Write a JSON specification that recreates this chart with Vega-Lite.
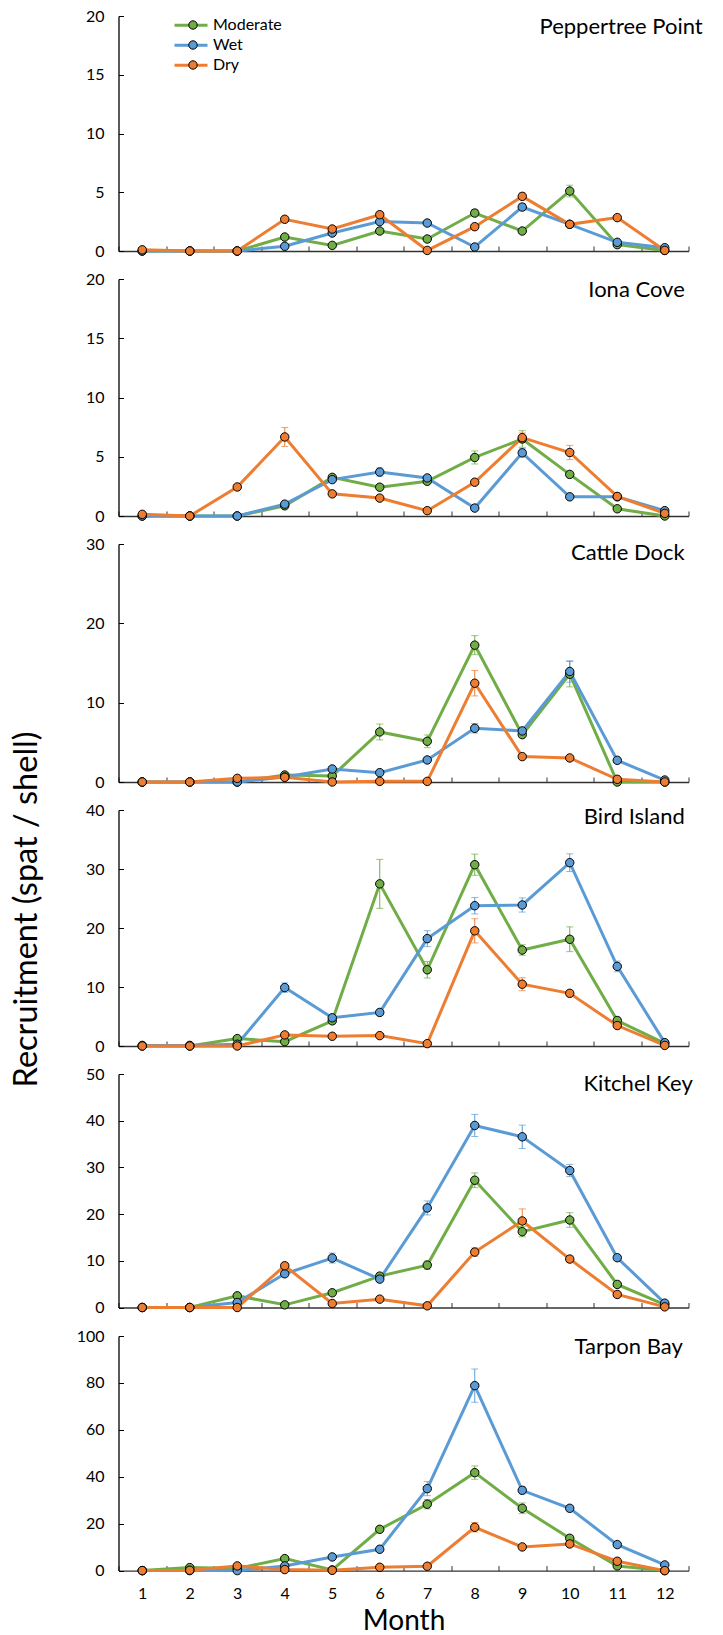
{
  "$schema": "https://vega.github.io/schema/vega-lite/v6.json",
  "background": "white",
  "padding": {"left": 9.5, "top": 8, "right": 10, "bottom": 2},
  "spacing": 28,
  "bounds": "flush",
  "config": {
    "view": {"stroke": null},
    "font": "Lato",
    "axis": {"grid": false, "labelFont": "Lato", "labelFontSize": 16, "labelColor": "black", "tickSize": -5, "domainWidth": 1.3, "tickWidth": 1, "titleFont": "Lato", "titleFontWeight": "normal", "titleColor": "black", "labelPadding": 19.5},
    "axisY": {"domainColor": "black", "tickColor": "black"},
    "axisX": {"domainColor": "#333333", "tickColor": "#333333"},
    "legend": {"labelFont": "Lato", "labelFontSize": 16, "labelColor": "black", "padding": 0, "rowPadding": 4, "clipHeight": 16, "labelOffset": 4}
  },
  "datasets": {
    "d": [
      {"s":"PP","m":1,"g":"Moderate","v":0,"lo":0,"hi":0},
      {"s":"PP","m":2,"g":"Moderate","v":0,"lo":0,"hi":0},
      {"s":"PP","m":3,"g":"Moderate","v":0,"lo":0,"hi":0},
      {"s":"PP","m":4,"g":"Moderate","v":1.19,"lo":0.99,"hi":1.39},
      {"s":"PP","m":5,"g":"Moderate","v":0.48,"lo":0.33,"hi":0.63},
      {"s":"PP","m":6,"g":"Moderate","v":1.70,"lo":1.5,"hi":1.9},
      {"s":"PP","m":7,"g":"Moderate","v":1.02,"lo":0.82,"hi":1.22},
      {"s":"PP","m":8,"g":"Moderate","v":3.23,"lo":2.93,"hi":3.53},
      {"s":"PP","m":9,"g":"Moderate","v":1.70,"lo":1.5,"hi":1.9},
      {"s":"PP","m":10,"g":"Moderate","v":5.10,"lo":4.6,"hi":5.6},
      {"s":"PP","m":11,"g":"Moderate","v":0.54,"lo":0.39,"hi":0.69},
      {"s":"PP","m":12,"g":"Moderate","v":0.05,"lo":0,"hi":0.1},
      {"s":"PP","m":1,"g":"Wet","v":0,"lo":0,"hi":0},
      {"s":"PP","m":2,"g":"Wet","v":0,"lo":0,"hi":0},
      {"s":"PP","m":3,"g":"Wet","v":0,"lo":0,"hi":0},
      {"s":"PP","m":4,"g":"Wet","v":0.40,"lo":0.3,"hi":0.5},
      {"s":"PP","m":5,"g":"Wet","v":1.53,"lo":1.33,"hi":1.73},
      {"s":"PP","m":6,"g":"Wet","v":2.50,"lo":2.3,"hi":2.7},
      {"s":"PP","m":7,"g":"Wet","v":2.38,"lo":2.18,"hi":2.58},
      {"s":"PP","m":8,"g":"Wet","v":0.34,"lo":0.24,"hi":0.44},
      {"s":"PP","m":9,"g":"Wet","v":3.74,"lo":3.44,"hi":4.04},
      {"s":"PP","m":10,"g":"Wet","v":2.27,"lo":2.07,"hi":2.47},
      {"s":"PP","m":11,"g":"Wet","v":0.74,"lo":0.59,"hi":0.89},
      {"s":"PP","m":12,"g":"Wet","v":0.28,"lo":0.18,"hi":0.38},
      {"s":"PP","m":1,"g":"Dry","v":0.1,"lo":0.05,"hi":0.15},
      {"s":"PP","m":2,"g":"Dry","v":0,"lo":0,"hi":0},
      {"s":"PP","m":3,"g":"Dry","v":0,"lo":0,"hi":0},
      {"s":"PP","m":4,"g":"Dry","v":2.70,"lo":2.5,"hi":2.9},
      {"s":"PP","m":5,"g":"Dry","v":1.87,"lo":1.67,"hi":2.07},
      {"s":"PP","m":6,"g":"Dry","v":3.09,"lo":2.84,"hi":3.34},
      {"s":"PP","m":7,"g":"Dry","v":0.05,"lo":0,"hi":0.1},
      {"s":"PP","m":8,"g":"Dry","v":2.07,"lo":1.87,"hi":2.27},
      {"s":"PP","m":9,"g":"Dry","v":4.65,"lo":4.35,"hi":4.95},
      {"s":"PP","m":10,"g":"Dry","v":2.27,"lo":2.07,"hi":2.47},
      {"s":"PP","m":11,"g":"Dry","v":2.84,"lo":2.64,"hi":3.04},
      {"s":"PP","m":12,"g":"Dry","v":0.05,"lo":0,"hi":0.1},
      {"s":"IC","m":1,"g":"Moderate","v":0,"lo":0,"hi":0},
      {"s":"IC","m":2,"g":"Moderate","v":0,"lo":0,"hi":0},
      {"s":"IC","m":3,"g":"Moderate","v":0,"lo":0,"hi":0},
      {"s":"IC","m":4,"g":"Moderate","v":0.86,"lo":0.76,"hi":0.96},
      {"s":"IC","m":5,"g":"Moderate","v":3.26,"lo":3.06,"hi":3.46},
      {"s":"IC","m":6,"g":"Moderate","v":2.43,"lo":2.23,"hi":2.63},
      {"s":"IC","m":7,"g":"Moderate","v":2.93,"lo":2.73,"hi":3.13},
      {"s":"IC","m":8,"g":"Moderate","v":4.94,"lo":4.39,"hi":5.49},
      {"s":"IC","m":9,"g":"Moderate","v":6.5,"lo":5.8,"hi":7.2},
      {"s":"IC","m":10,"g":"Moderate","v":3.51,"lo":3.26,"hi":3.76},
      {"s":"IC","m":11,"g":"Moderate","v":0.61,"lo":0.51,"hi":0.71},
      {"s":"IC","m":12,"g":"Moderate","v":0,"lo":0,"hi":0},
      {"s":"IC","m":1,"g":"Wet","v":0,"lo":0,"hi":0},
      {"s":"IC","m":2,"g":"Wet","v":0,"lo":0,"hi":0},
      {"s":"IC","m":3,"g":"Wet","v":0,"lo":0,"hi":0},
      {"s":"IC","m":4,"g":"Wet","v":1.0,"lo":0.9,"hi":1.1},
      {"s":"IC","m":5,"g":"Wet","v":3.07,"lo":2.87,"hi":3.27},
      {"s":"IC","m":6,"g":"Wet","v":3.71,"lo":3.36,"hi":4.06},
      {"s":"IC","m":7,"g":"Wet","v":3.21,"lo":3.01,"hi":3.41},
      {"s":"IC","m":8,"g":"Wet","v":0.67,"lo":0.57,"hi":0.77},
      {"s":"IC","m":9,"g":"Wet","v":5.33,"lo":4.98,"hi":5.68},
      {"s":"IC","m":10,"g":"Wet","v":1.62,"lo":1.47,"hi":1.77},
      {"s":"IC","m":11,"g":"Wet","v":1.62,"lo":1.47,"hi":1.77},
      {"s":"IC","m":12,"g":"Wet","v":0.45,"lo":0.35,"hi":0.55},
      {"s":"IC","m":1,"g":"Dry","v":0.14,"lo":0.09,"hi":0.19},
      {"s":"IC","m":2,"g":"Dry","v":0,"lo":0,"hi":0},
      {"s":"IC","m":3,"g":"Dry","v":2.45,"lo":2.25,"hi":2.65},
      {"s":"IC","m":4,"g":"Dry","v":6.67,"lo":5.87,"hi":7.47},
      {"s":"IC","m":5,"g":"Dry","v":1.87,"lo":1.72,"hi":2.02},
      {"s":"IC","m":6,"g":"Dry","v":1.51,"lo":1.36,"hi":1.66},
      {"s":"IC","m":7,"g":"Dry","v":0.45,"lo":0.35,"hi":0.55},
      {"s":"IC","m":8,"g":"Dry","v":2.85,"lo":2.65,"hi":3.05},
      {"s":"IC","m":9,"g":"Dry","v":6.61,"lo":6.21,"hi":7.01},
      {"s":"IC","m":10,"g":"Dry","v":5.36,"lo":4.76,"hi":5.96},
      {"s":"IC","m":11,"g":"Dry","v":1.65,"lo":1.45,"hi":1.85},
      {"s":"IC","m":12,"g":"Dry","v":0.22,"lo":0.17,"hi":0.27},
      {"s":"CD","m":1,"g":"Moderate","v":0,"lo":0,"hi":0},
      {"s":"CD","m":2,"g":"Moderate","v":0,"lo":0,"hi":0},
      {"s":"CD","m":3,"g":"Moderate","v":0,"lo":0,"hi":0},
      {"s":"CD","m":4,"g":"Moderate","v":0.88,"lo":0.68,"hi":1.08},
      {"s":"CD","m":5,"g":"Moderate","v":0.76,"lo":0.56,"hi":0.96},
      {"s":"CD","m":6,"g":"Moderate","v":6.31,"lo":5.31,"hi":7.31},
      {"s":"CD","m":7,"g":"Moderate","v":5.13,"lo":4.33,"hi":5.93},
      {"s":"CD","m":8,"g":"Moderate","v":17.25,"lo":16.05,"hi":18.45},
      {"s":"CD","m":9,"g":"Moderate","v":5.97,"lo":5.67,"hi":6.27},
      {"s":"CD","m":10,"g":"Moderate","v":13.59,"lo":11.99,"hi":15.19},
      {"s":"CD","m":11,"g":"Moderate","v":0,"lo":0,"hi":0},
      {"s":"CD","m":12,"g":"Moderate","v":0,"lo":0,"hi":0},
      {"s":"CD","m":1,"g":"Wet","v":0,"lo":0,"hi":0},
      {"s":"CD","m":2,"g":"Wet","v":0,"lo":0,"hi":0},
      {"s":"CD","m":3,"g":"Wet","v":0,"lo":0,"hi":0},
      {"s":"CD","m":4,"g":"Wet","v":0.63,"lo":0.43,"hi":0.83},
      {"s":"CD","m":5,"g":"Wet","v":1.64,"lo":1.34,"hi":1.94},
      {"s":"CD","m":6,"g":"Wet","v":1.18,"lo":0.88,"hi":1.48},
      {"s":"CD","m":7,"g":"Wet","v":2.78,"lo":2.48,"hi":3.08},
      {"s":"CD","m":8,"g":"Wet","v":6.77,"lo":6.17,"hi":7.37},
      {"s":"CD","m":9,"g":"Wet","v":6.44,"lo":6.04,"hi":6.84},
      {"s":"CD","m":10,"g":"Wet","v":13.93,"lo":12.58,"hi":15.28},
      {"s":"CD","m":11,"g":"Wet","v":2.73,"lo":2.43,"hi":3.03},
      {"s":"CD","m":12,"g":"Wet","v":0.25,"lo":0.15,"hi":0.35},
      {"s":"CD","m":1,"g":"Dry","v":0,"lo":0,"hi":0},
      {"s":"CD","m":2,"g":"Dry","v":0,"lo":0,"hi":0},
      {"s":"CD","m":3,"g":"Dry","v":0.46,"lo":0.36,"hi":0.56},
      {"s":"CD","m":4,"g":"Dry","v":0.59,"lo":0.49,"hi":0.69},
      {"s":"CD","m":5,"g":"Dry","v":0,"lo":0,"hi":0},
      {"s":"CD","m":6,"g":"Dry","v":0.08,"lo":0.03,"hi":0.13},
      {"s":"CD","m":7,"g":"Dry","v":0.08,"lo":0.03,"hi":0.13},
      {"s":"CD","m":8,"g":"Dry","v":12.45,"lo":10.85,"hi":14.05},
      {"s":"CD","m":9,"g":"Dry","v":3.2,"lo":2.9,"hi":3.5},
      {"s":"CD","m":10,"g":"Dry","v":3.03,"lo":2.73,"hi":3.33},
      {"s":"CD","m":11,"g":"Dry","v":0.34,"lo":0.24,"hi":0.44},
      {"s":"CD","m":12,"g":"Dry","v":0,"lo":0,"hi":0},
      {"s":"BI","m":1,"g":"Moderate","v":0,"lo":0,"hi":0},
      {"s":"BI","m":2,"g":"Moderate","v":0,"lo":0,"hi":0},
      {"s":"BI","m":3,"g":"Moderate","v":1.25,"lo":0.95,"hi":1.55},
      {"s":"BI","m":4,"g":"Moderate","v":0.74,"lo":0.44,"hi":1.04},
      {"s":"BI","m":5,"g":"Moderate","v":4.27,"lo":3.77,"hi":4.77},
      {"s":"BI","m":6,"g":"Moderate","v":27.48,"lo":23.33,"hi":31.63},
      {"s":"BI","m":7,"g":"Moderate","v":12.92,"lo":11.52,"hi":14.32},
      {"s":"BI","m":8,"g":"Moderate","v":30.73,"lo":28.93,"hi":32.53},
      {"s":"BI","m":9,"g":"Moderate","v":16.27,"lo":15.37,"hi":17.17},
      {"s":"BI","m":10,"g":"Moderate","v":18.09,"lo":15.99,"hi":20.19},
      {"s":"BI","m":11,"g":"Moderate","v":4.32,"lo":3.82,"hi":4.82},
      {"s":"BI","m":12,"g":"Moderate","v":0.46,"lo":0.26,"hi":0.66},
      {"s":"BI","m":1,"g":"Wet","v":0.1,"lo":0.1,"hi":0.1},
      {"s":"BI","m":2,"g":"Wet","v":0.1,"lo":0.1,"hi":0.1},
      {"s":"BI","m":3,"g":"Wet","v":0.3,"lo":0.2,"hi":0.4},
      {"s":"BI","m":4,"g":"Wet","v":9.9,"lo":9.1,"hi":10.7},
      {"s":"BI","m":5,"g":"Wet","v":4.78,"lo":4.28,"hi":5.28},
      {"s":"BI","m":6,"g":"Wet","v":5.69,"lo":5.19,"hi":6.19},
      {"s":"BI","m":7,"g":"Wet","v":18.2,"lo":16.85,"hi":19.55},
      {"s":"BI","m":8,"g":"Wet","v":23.78,"lo":22.38,"hi":25.18},
      {"s":"BI","m":9,"g":"Wet","v":23.9,"lo":22.7,"hi":25.1},
      {"s":"BI","m":10,"g":"Wet","v":31.07,"lo":29.57,"hi":32.57},
      {"s":"BI","m":11,"g":"Wet","v":13.49,"lo":12.59,"hi":14.39},
      {"s":"BI","m":12,"g":"Wet","v":0.57,"lo":0.37,"hi":0.77},
      {"s":"BI","m":1,"g":"Dry","v":0,"lo":0,"hi":0},
      {"s":"BI","m":2,"g":"Dry","v":0,"lo":0,"hi":0},
      {"s":"BI","m":3,"g":"Dry","v":0,"lo":0,"hi":0},
      {"s":"BI","m":4,"g":"Dry","v":1.88,"lo":1.48,"hi":2.28},
      {"s":"BI","m":5,"g":"Dry","v":1.65,"lo":1.35,"hi":1.95},
      {"s":"BI","m":6,"g":"Dry","v":1.76,"lo":1.36,"hi":2.16},
      {"s":"BI","m":7,"g":"Dry","v":0.4,"lo":0.2,"hi":0.6},
      {"s":"BI","m":8,"g":"Dry","v":19.52,"lo":17.47,"hi":21.57},
      {"s":"BI","m":9,"g":"Dry","v":10.47,"lo":9.37,"hi":11.57},
      {"s":"BI","m":10,"g":"Dry","v":8.93,"lo":8.43,"hi":9.43},
      {"s":"BI","m":11,"g":"Dry","v":3.47,"lo":3.07,"hi":3.87},
      {"s":"BI","m":12,"g":"Dry","v":0.1,"lo":0.05,"hi":0.15},
      {"s":"KK","m":1,"g":"Moderate","v":0,"lo":0,"hi":0},
      {"s":"KK","m":2,"g":"Moderate","v":0,"lo":0,"hi":0},
      {"s":"KK","m":3,"g":"Moderate","v":2.5,"lo":2.2,"hi":2.8},
      {"s":"KK","m":4,"g":"Moderate","v":0.57,"lo":0.27,"hi":0.87},
      {"s":"KK","m":5,"g":"Moderate","v":3.15,"lo":2.75,"hi":3.55},
      {"s":"KK","m":6,"g":"Moderate","v":6.72,"lo":6.12,"hi":7.32},
      {"s":"KK","m":7,"g":"Moderate","v":9.08,"lo":8.18,"hi":9.98},
      {"s":"KK","m":8,"g":"Moderate","v":27.25,"lo":25.68,"hi":28.82},
      {"s":"KK","m":9,"g":"Moderate","v":16.24,"lo":15.14,"hi":17.34},
      {"s":"KK","m":10,"g":"Moderate","v":18.74,"lo":17.17,"hi":20.31},
      {"s":"KK","m":11,"g":"Moderate","v":4.94,"lo":4.44,"hi":5.44},
      {"s":"KK","m":12,"g":"Moderate","v":0.64,"lo":0.44,"hi":0.84},
      {"s":"KK","m":1,"g":"Wet","v":0,"lo":0,"hi":0},
      {"s":"KK","m":2,"g":"Wet","v":0,"lo":0,"hi":0},
      {"s":"KK","m":3,"g":"Wet","v":1.07,"lo":0.77,"hi":1.37},
      {"s":"KK","m":4,"g":"Wet","v":7.22,"lo":6.62,"hi":7.82},
      {"s":"KK","m":5,"g":"Wet","v":10.59,"lo":9.52,"hi":11.66},
      {"s":"KK","m":6,"g":"Wet","v":6.08,"lo":5.48,"hi":6.68},
      {"s":"KK","m":7,"g":"Wet","v":21.32,"lo":19.82,"hi":22.82},
      {"s":"KK","m":8,"g":"Wet","v":38.98,"lo":36.62,"hi":41.34},
      {"s":"KK","m":9,"g":"Wet","v":36.55,"lo":34.05,"hi":39.05},
      {"s":"KK","m":10,"g":"Wet","v":29.33,"lo":28.03,"hi":30.63},
      {"s":"KK","m":11,"g":"Wet","v":10.66,"lo":10.06,"hi":11.26},
      {"s":"KK","m":12,"g":"Wet","v":0.93,"lo":0.73,"hi":1.13},
      {"s":"KK","m":1,"g":"Dry","v":0,"lo":0,"hi":0},
      {"s":"KK","m":2,"g":"Dry","v":0,"lo":0,"hi":0},
      {"s":"KK","m":3,"g":"Dry","v":0,"lo":0,"hi":0},
      {"s":"KK","m":4,"g":"Dry","v":8.94,"lo":8.34,"hi":9.54},
      {"s":"KK","m":5,"g":"Dry","v":0.86,"lo":0.56,"hi":1.16},
      {"s":"KK","m":6,"g":"Dry","v":1.79,"lo":1.49,"hi":2.09},
      {"s":"KK","m":7,"g":"Dry","v":0.36,"lo":0.16,"hi":0.56},
      {"s":"KK","m":8,"g":"Dry","v":11.87,"lo":10.97,"hi":12.77},
      {"s":"KK","m":9,"g":"Dry","v":18.53,"lo":15.95,"hi":21.11},
      {"s":"KK","m":10,"g":"Dry","v":10.37,"lo":9.67,"hi":11.07},
      {"s":"KK","m":11,"g":"Dry","v":2.79,"lo":2.29,"hi":3.29},
      {"s":"KK","m":12,"g":"Dry","v":0.14,"lo":0.04,"hi":0.24},
      {"s":"TB","m":1,"g":"Moderate","v":0,"lo":0,"hi":0},
      {"s":"TB","m":2,"g":"Moderate","v":1.28,"lo":0.98,"hi":1.58},
      {"s":"TB","m":3,"g":"Moderate","v":0.9,"lo":0.6,"hi":1.2},
      {"s":"TB","m":4,"g":"Moderate","v":5.11,"lo":4.31,"hi":5.91},
      {"s":"TB","m":5,"g":"Moderate","v":0.28,"lo":0,"hi":0.58},
      {"s":"TB","m":6,"g":"Moderate","v":17.6,"lo":16.4,"hi":18.8},
      {"s":"TB","m":7,"g":"Moderate","v":28.3,"lo":26.3,"hi":30.3},
      {"s":"TB","m":8,"g":"Moderate","v":41.76,"lo":38.92,"hi":44.6},
      {"s":"TB","m":9,"g":"Moderate","v":26.56,"lo":24.29,"hi":28.83},
      {"s":"TB","m":10,"g":"Moderate","v":13.78,"lo":12.78,"hi":14.78},
      {"s":"TB","m":11,"g":"Moderate","v":1.99,"lo":1.49,"hi":2.49},
      {"s":"TB","m":12,"g":"Moderate","v":0,"lo":0,"hi":0},
      {"s":"TB","m":1,"g":"Wet","v":0,"lo":0,"hi":0},
      {"s":"TB","m":2,"g":"Wet","v":0,"lo":0,"hi":0},
      {"s":"TB","m":3,"g":"Wet","v":0,"lo":0,"hi":0},
      {"s":"TB","m":4,"g":"Wet","v":1.99,"lo":1.49,"hi":2.49},
      {"s":"TB","m":5,"g":"Wet","v":5.82,"lo":5.02,"hi":6.62},
      {"s":"TB","m":6,"g":"Wet","v":9.09,"lo":8.09,"hi":10.09},
      {"s":"TB","m":7,"g":"Wet","v":34.94,"lo":31.94,"hi":37.94},
      {"s":"TB","m":8,"g":"Wet","v":78.84,"lo":71.74,"hi":85.94},
      {"s":"TB","m":9,"g":"Wet","v":34.23,"lo":32.73,"hi":35.73},
      {"s":"TB","m":10,"g":"Wet","v":26.56,"lo":25.36,"hi":27.76},
      {"s":"TB","m":11,"g":"Wet","v":11.08,"lo":10.28,"hi":11.88},
      {"s":"TB","m":12,"g":"Wet","v":2.41,"lo":2.01,"hi":2.81},
      {"s":"TB","m":1,"g":"Dry","v":0,"lo":0,"hi":0},
      {"s":"TB","m":2,"g":"Dry","v":0.14,"lo":0.04,"hi":0.24},
      {"s":"TB","m":3,"g":"Dry","v":1.99,"lo":1.69,"hi":2.29},
      {"s":"TB","m":4,"g":"Dry","v":0.43,"lo":0.23,"hi":0.63},
      {"s":"TB","m":5,"g":"Dry","v":0.14,"lo":0.04,"hi":0.24},
      {"s":"TB","m":6,"g":"Dry","v":1.42,"lo":1.02,"hi":1.82},
      {"s":"TB","m":7,"g":"Dry","v":1.85,"lo":1.35,"hi":2.35},
      {"s":"TB","m":8,"g":"Dry","v":18.47,"lo":16.47,"hi":20.47},
      {"s":"TB","m":9,"g":"Dry","v":10.09,"lo":9.29,"hi":10.89},
      {"s":"TB","m":10,"g":"Dry","v":11.36,"lo":10.56,"hi":12.16},
      {"s":"TB","m":11,"g":"Dry","v":3.98,"lo":3.48,"hi":4.48},
      {"s":"TB","m":12,"g":"Dry","v":0,"lo":0,"hi":0}
    ]
  },
  "resolve": {
    "scale": {"x": "independent", "y": "independent"},
    "axis": {"x": "independent", "y": "independent"},
    "legend": {"stroke": "independent", "fill": "independent"}
  },
  "vconcat": [
    {
      "width": 570, "height": 235,
      "data": {"name": "d"},
      "transform": [{"filter": "datum.s == 'PP'"}],
      "encoding": {"x": {"field": "m", "type": "ordinal", "bandPosition": 0.5, "scale": {"type": "band", "domain": [1,2,3,4,5,6,7,8,9,10,11,12], "paddingInner": 0, "paddingOuter": 0}, "axis": {"title": null, "labels": false, "tickBand": "extent"}}},
      "layer": [
        {"mark": {"type": "rule", "strokeWidth": 1}, "encoding": {"y": {"field": "lo", "type": "quantitative", "scale": {"domain": [0, 20], "nice": false}, "axis": {"title": null, "values": [0,5,10,15,20]}}, "y2": {"field": "hi"}, "color": {"field": "g", "type": "nominal", "scale": {"domain": ["Moderate","Wet","Dry"], "range": ["#70AD47","#5B9BD5","#ED7D31"]}, "legend": null}}},
        {"mark": {"type": "tick", "thickness": 1, "size": 7}, "encoding": {"y": {"field": "hi", "type": "quantitative", "scale": {"domain": [0, 20], "nice": false}, "axis": {"title": null, "values": [0,5,10,15,20]}}, "color": {"field": "g", "type": "nominal", "scale": {"domain": ["Moderate","Wet","Dry"], "range": ["#70AD47","#5B9BD5","#ED7D31"]}, "legend": null}}},
        {"mark": {"type": "tick", "thickness": 1, "size": 7}, "encoding": {"y": {"field": "lo", "type": "quantitative", "scale": {"domain": [0, 20], "nice": false}, "axis": {"title": null, "values": [0,5,10,15,20]}}, "color": {"field": "g", "type": "nominal", "scale": {"domain": ["Moderate","Wet","Dry"], "range": ["#70AD47","#5B9BD5","#ED7D31"]}, "legend": null}}},
        {"mark": {"type": "line", "strokeWidth": 3}, "encoding": {"y": {"field": "v", "type": "quantitative", "scale": {"domain": [0, 20], "nice": false}, "axis": {"title": null, "values": [0,5,10,15,20]}}, "stroke": {"field": "g", "type": "nominal", "scale": {"domain": ["Moderate","Wet","Dry"], "range": ["#70AD47","#5B9BD5","#ED7D31"]}, "legend": {"title": null, "orient": "none", "legendX": 54.5, "legendY": 1.3, "symbolType": "stroke", "symbolSize": 1089, "symbolStrokeWidth": 3, "symbolFillColor": "transparent"}}}},
        {"mark": {"type": "point", "filled": true, "shape": "circle", "size": 71, "stroke": "black", "strokeWidth": 1, "opacity": 1}, "encoding": {"y": {"field": "v", "type": "quantitative", "scale": {"domain": [0, 20], "nice": false}, "axis": {"title": null, "values": [0,5,10,15,20]}}, "fill": {"field": "g", "type": "nominal", "scale": {"domain": ["Moderate","Wet","Dry"], "range": ["#70AD47","#5B9BD5","#ED7D31"]}, "legend": {"title": null, "orient": "top-left", "offset": 1.3, "symbolOffset": 65.5, "symbolType": "circle", "symbolSize": 71, "symbolStrokeColor": "black", "symbolStrokeWidth": 1, "symbolOpacity": 1, "labelExpr": "''"}}}},
        {"data": {"values": [{"s": "PP", "name": "Peppertree Point"}]}, "mark": {"type": "text", "align": "right", "baseline": "alphabetic", "dx": 38, "dy": 17.5, "font": "Lato", "fontSize": 22, "color": "black"}, "encoding": {"x": {"datum": 12, "type": "ordinal", "bandPosition": 0.5, "scale": {"type": "band", "domain": [1,2,3,4,5,6,7,8,9,10,11,12], "paddingInner": 0, "paddingOuter": 0}, "axis": {"title": null, "labels": false, "tickBand": "extent"}}, "y": {"datum": 20, "type": "quantitative", "scale": {"domain": [0, 20], "nice": false}, "axis": {"title": null, "values": [0,5,10,15,20]}}, "text": {"field": "name"}}}
      ]
    },
    {
      "width": 570, "height": 237,
      "data": {"name": "d"},
      "transform": [{"filter": "datum.s == 'IC'"}],
      "encoding": {"x": {"field": "m", "type": "ordinal", "bandPosition": 0.5, "scale": {"type": "band", "domain": [1,2,3,4,5,6,7,8,9,10,11,12], "paddingInner": 0, "paddingOuter": 0}, "axis": {"title": null, "labels": false, "tickBand": "extent"}}},
      "layer": [
        {"mark": {"type": "rule", "strokeWidth": 1}, "encoding": {"y": {"field": "lo", "type": "quantitative", "scale": {"domain": [0, 20], "nice": false}, "axis": {"title": null, "values": [0,5,10,15,20]}}, "y2": {"field": "hi"}, "color": {"field": "g", "type": "nominal", "scale": {"domain": ["Moderate","Wet","Dry"], "range": ["#70AD47","#5B9BD5","#ED7D31"]}, "legend": null}}},
        {"mark": {"type": "tick", "thickness": 1, "size": 7}, "encoding": {"y": {"field": "hi", "type": "quantitative", "scale": {"domain": [0, 20], "nice": false}, "axis": {"title": null, "values": [0,5,10,15,20]}}, "color": {"field": "g", "type": "nominal", "scale": {"domain": ["Moderate","Wet","Dry"], "range": ["#70AD47","#5B9BD5","#ED7D31"]}, "legend": null}}},
        {"mark": {"type": "tick", "thickness": 1, "size": 7}, "encoding": {"y": {"field": "lo", "type": "quantitative", "scale": {"domain": [0, 20], "nice": false}, "axis": {"title": null, "values": [0,5,10,15,20]}}, "color": {"field": "g", "type": "nominal", "scale": {"domain": ["Moderate","Wet","Dry"], "range": ["#70AD47","#5B9BD5","#ED7D31"]}, "legend": null}}},
        {"mark": {"type": "line", "strokeWidth": 3}, "encoding": {"y": {"field": "v", "type": "quantitative", "scale": {"domain": [0, 20], "nice": false}, "axis": {"title": null, "values": [0,5,10,15,20]}}, "stroke": {"field": "g", "type": "nominal", "scale": {"domain": ["Moderate","Wet","Dry"], "range": ["#70AD47","#5B9BD5","#ED7D31"]}, "legend": null}}},
        {"mark": {"type": "point", "filled": true, "shape": "circle", "size": 71, "stroke": "black", "strokeWidth": 1, "opacity": 1}, "encoding": {"y": {"field": "v", "type": "quantitative", "scale": {"domain": [0, 20], "nice": false}, "axis": {"title": null, "values": [0,5,10,15,20]}}, "fill": {"field": "g", "type": "nominal", "scale": {"domain": ["Moderate","Wet","Dry"], "range": ["#70AD47","#5B9BD5","#ED7D31"]}, "legend": null}}},
        {"data": {"values": [{"s": "IC", "name": "Iona Cove"}]}, "mark": {"type": "text", "align": "right", "baseline": "alphabetic", "dx": 20, "dy": 18, "font": "Lato", "fontSize": 22, "color": "black"}, "encoding": {"x": {"datum": 12, "type": "ordinal", "bandPosition": 0.5, "scale": {"type": "band", "domain": [1,2,3,4,5,6,7,8,9,10,11,12], "paddingInner": 0, "paddingOuter": 0}, "axis": {"title": null, "labels": false, "tickBand": "extent"}}, "y": {"datum": 20, "type": "quantitative", "scale": {"domain": [0, 20], "nice": false}, "axis": {"title": null, "values": [0,5,10,15,20]}}, "text": {"field": "name"}}}
      ]
    },
    {
      "width": 570, "height": 238,
      "data": {"name": "d"},
      "transform": [{"filter": "datum.s == 'CD'"}],
      "encoding": {"x": {"field": "m", "type": "ordinal", "bandPosition": 0.5, "scale": {"type": "band", "domain": [1,2,3,4,5,6,7,8,9,10,11,12], "paddingInner": 0, "paddingOuter": 0}, "axis": {"title": null, "labels": false, "tickBand": "extent"}}},
      "layer": [
        {"mark": {"type": "rule", "strokeWidth": 1}, "encoding": {"y": {"field": "lo", "type": "quantitative", "scale": {"domain": [0, 30], "nice": false}, "axis": {"title": null, "values": [0,10,20,30]}}, "y2": {"field": "hi"}, "color": {"field": "g", "type": "nominal", "scale": {"domain": ["Moderate","Wet","Dry"], "range": ["#70AD47","#5B9BD5","#ED7D31"]}, "legend": null}}},
        {"mark": {"type": "tick", "thickness": 1, "size": 7}, "encoding": {"y": {"field": "hi", "type": "quantitative", "scale": {"domain": [0, 30], "nice": false}, "axis": {"title": null, "values": [0,10,20,30]}}, "color": {"field": "g", "type": "nominal", "scale": {"domain": ["Moderate","Wet","Dry"], "range": ["#70AD47","#5B9BD5","#ED7D31"]}, "legend": null}}},
        {"mark": {"type": "tick", "thickness": 1, "size": 7}, "encoding": {"y": {"field": "lo", "type": "quantitative", "scale": {"domain": [0, 30], "nice": false}, "axis": {"title": null, "values": [0,10,20,30]}}, "color": {"field": "g", "type": "nominal", "scale": {"domain": ["Moderate","Wet","Dry"], "range": ["#70AD47","#5B9BD5","#ED7D31"]}, "legend": null}}},
        {"mark": {"type": "line", "strokeWidth": 3}, "encoding": {"y": {"field": "v", "type": "quantitative", "scale": {"domain": [0, 30], "nice": false}, "axis": {"title": null, "values": [0,10,20,30]}}, "stroke": {"field": "g", "type": "nominal", "scale": {"domain": ["Moderate","Wet","Dry"], "range": ["#70AD47","#5B9BD5","#ED7D31"]}, "legend": null}}},
        {"mark": {"type": "point", "filled": true, "shape": "circle", "size": 71, "stroke": "black", "strokeWidth": 1, "opacity": 1}, "encoding": {"y": {"field": "v", "type": "quantitative", "scale": {"domain": [0, 30], "nice": false}, "axis": {"title": null, "values": [0,10,20,30]}}, "fill": {"field": "g", "type": "nominal", "scale": {"domain": ["Moderate","Wet","Dry"], "range": ["#70AD47","#5B9BD5","#ED7D31"]}, "legend": null}}},
        {"data": {"values": [{"s": "CD", "name": "Cattle Dock"}]}, "mark": {"type": "text", "align": "right", "baseline": "alphabetic", "dx": 20, "dy": 16, "font": "Lato", "fontSize": 22, "color": "black"}, "encoding": {"x": {"datum": 12, "type": "ordinal", "bandPosition": 0.5, "scale": {"type": "band", "domain": [1,2,3,4,5,6,7,8,9,10,11,12], "paddingInner": 0, "paddingOuter": 0}, "axis": {"title": null, "labels": false, "tickBand": "extent"}}, "y": {"datum": 30, "type": "quantitative", "scale": {"domain": [0, 30], "nice": false}, "axis": {"title": null, "values": [0,10,20,30]}}, "text": {"field": "name"}}}
      ]
    },
    {
      "width": 570, "height": 236,
      "data": {"name": "d"},
      "transform": [{"filter": "datum.s == 'BI'"}],
      "encoding": {"x": {"field": "m", "type": "ordinal", "bandPosition": 0.5, "scale": {"type": "band", "domain": [1,2,3,4,5,6,7,8,9,10,11,12], "paddingInner": 0, "paddingOuter": 0}, "axis": {"title": null, "labels": false, "tickBand": "extent"}}},
      "layer": [
        {"mark": {"type": "rule", "strokeWidth": 1}, "encoding": {"y": {"field": "lo", "type": "quantitative", "scale": {"domain": [0, 40], "nice": false}, "axis": {"title": "Recruitment (spat / shell)", "values": [0,10,20,30,40], "titleFontSize": 32.5, "titleX": -82, "titleY": 99, "titleAngle": -90, "titleBaseline": "alphabetic", "titleAlign": "center"}}, "y2": {"field": "hi"}, "color": {"field": "g", "type": "nominal", "scale": {"domain": ["Moderate","Wet","Dry"], "range": ["#70AD47","#5B9BD5","#ED7D31"]}, "legend": null}}},
        {"mark": {"type": "tick", "thickness": 1, "size": 7}, "encoding": {"y": {"field": "hi", "type": "quantitative", "scale": {"domain": [0, 40], "nice": false}, "axis": {"title": "Recruitment (spat / shell)", "values": [0,10,20,30,40], "titleFontSize": 32.5, "titleX": -82, "titleY": 99, "titleAngle": -90, "titleBaseline": "alphabetic", "titleAlign": "center"}}, "color": {"field": "g", "type": "nominal", "scale": {"domain": ["Moderate","Wet","Dry"], "range": ["#70AD47","#5B9BD5","#ED7D31"]}, "legend": null}}},
        {"mark": {"type": "tick", "thickness": 1, "size": 7}, "encoding": {"y": {"field": "lo", "type": "quantitative", "scale": {"domain": [0, 40], "nice": false}, "axis": {"title": "Recruitment (spat / shell)", "values": [0,10,20,30,40], "titleFontSize": 32.5, "titleX": -82, "titleY": 99, "titleAngle": -90, "titleBaseline": "alphabetic", "titleAlign": "center"}}, "color": {"field": "g", "type": "nominal", "scale": {"domain": ["Moderate","Wet","Dry"], "range": ["#70AD47","#5B9BD5","#ED7D31"]}, "legend": null}}},
        {"mark": {"type": "line", "strokeWidth": 3}, "encoding": {"y": {"field": "v", "type": "quantitative", "scale": {"domain": [0, 40], "nice": false}, "axis": {"title": "Recruitment (spat / shell)", "values": [0,10,20,30,40], "titleFontSize": 32.5, "titleX": -82, "titleY": 99, "titleAngle": -90, "titleBaseline": "alphabetic", "titleAlign": "center"}}, "stroke": {"field": "g", "type": "nominal", "scale": {"domain": ["Moderate","Wet","Dry"], "range": ["#70AD47","#5B9BD5","#ED7D31"]}, "legend": null}}},
        {"mark": {"type": "point", "filled": true, "shape": "circle", "size": 71, "stroke": "black", "strokeWidth": 1, "opacity": 1}, "encoding": {"y": {"field": "v", "type": "quantitative", "scale": {"domain": [0, 40], "nice": false}, "axis": {"title": "Recruitment (spat / shell)", "values": [0,10,20,30,40], "titleFontSize": 32.5, "titleX": -82, "titleY": 99, "titleAngle": -90, "titleBaseline": "alphabetic", "titleAlign": "center"}}, "fill": {"field": "g", "type": "nominal", "scale": {"domain": ["Moderate","Wet","Dry"], "range": ["#70AD47","#5B9BD5","#ED7D31"]}, "legend": null}}},
        {"data": {"values": [{"s": "BI", "name": "Bird Island"}]}, "mark": {"type": "text", "align": "right", "baseline": "alphabetic", "dx": 20, "dy": 14, "font": "Lato", "fontSize": 22, "color": "black"}, "encoding": {"x": {"datum": 12, "type": "ordinal", "bandPosition": 0.5, "scale": {"type": "band", "domain": [1,2,3,4,5,6,7,8,9,10,11,12], "paddingInner": 0, "paddingOuter": 0}, "axis": {"title": null, "labels": false, "tickBand": "extent"}}, "y": {"datum": 40, "type": "quantitative", "scale": {"domain": [0, 40], "nice": false}, "axis": {"title": "Recruitment (spat / shell)", "values": [0,10,20,30,40], "titleFontSize": 32.5, "titleX": -82, "titleY": 99, "titleAngle": -90, "titleBaseline": "alphabetic", "titleAlign": "center"}}, "text": {"field": "name"}}}
      ]
    },
    {
      "width": 570, "height": 233.5,
      "data": {"name": "d"},
      "transform": [{"filter": "datum.s == 'KK'"}],
      "encoding": {"x": {"field": "m", "type": "ordinal", "bandPosition": 0.5, "scale": {"type": "band", "domain": [1,2,3,4,5,6,7,8,9,10,11,12], "paddingInner": 0, "paddingOuter": 0}, "axis": {"title": null, "labels": false, "tickBand": "extent"}}},
      "layer": [
        {"mark": {"type": "rule", "strokeWidth": 1}, "encoding": {"y": {"field": "lo", "type": "quantitative", "scale": {"domain": [0, 50], "nice": false}, "axis": {"title": null, "values": [0,10,20,30,40,50]}}, "y2": {"field": "hi"}, "color": {"field": "g", "type": "nominal", "scale": {"domain": ["Moderate","Wet","Dry"], "range": ["#70AD47","#5B9BD5","#ED7D31"]}, "legend": null}}},
        {"mark": {"type": "tick", "thickness": 1, "size": 7}, "encoding": {"y": {"field": "hi", "type": "quantitative", "scale": {"domain": [0, 50], "nice": false}, "axis": {"title": null, "values": [0,10,20,30,40,50]}}, "color": {"field": "g", "type": "nominal", "scale": {"domain": ["Moderate","Wet","Dry"], "range": ["#70AD47","#5B9BD5","#ED7D31"]}, "legend": null}}},
        {"mark": {"type": "tick", "thickness": 1, "size": 7}, "encoding": {"y": {"field": "lo", "type": "quantitative", "scale": {"domain": [0, 50], "nice": false}, "axis": {"title": null, "values": [0,10,20,30,40,50]}}, "color": {"field": "g", "type": "nominal", "scale": {"domain": ["Moderate","Wet","Dry"], "range": ["#70AD47","#5B9BD5","#ED7D31"]}, "legend": null}}},
        {"mark": {"type": "line", "strokeWidth": 3}, "encoding": {"y": {"field": "v", "type": "quantitative", "scale": {"domain": [0, 50], "nice": false}, "axis": {"title": null, "values": [0,10,20,30,40,50]}}, "stroke": {"field": "g", "type": "nominal", "scale": {"domain": ["Moderate","Wet","Dry"], "range": ["#70AD47","#5B9BD5","#ED7D31"]}, "legend": null}}},
        {"mark": {"type": "point", "filled": true, "shape": "circle", "size": 71, "stroke": "black", "strokeWidth": 1, "opacity": 1}, "encoding": {"y": {"field": "v", "type": "quantitative", "scale": {"domain": [0, 50], "nice": false}, "axis": {"title": null, "values": [0,10,20,30,40,50]}}, "fill": {"field": "g", "type": "nominal", "scale": {"domain": ["Moderate","Wet","Dry"], "range": ["#70AD47","#5B9BD5","#ED7D31"]}, "legend": null}}},
        {"data": {"values": [{"s": "KK", "name": "Kitchel Key"}]}, "mark": {"type": "text", "align": "right", "baseline": "alphabetic", "dx": 28, "dy": 17, "font": "Lato", "fontSize": 22, "color": "black"}, "encoding": {"x": {"datum": 12, "type": "ordinal", "bandPosition": 0.5, "scale": {"type": "band", "domain": [1,2,3,4,5,6,7,8,9,10,11,12], "paddingInner": 0, "paddingOuter": 0}, "axis": {"title": null, "labels": false, "tickBand": "extent"}}, "y": {"datum": 50, "type": "quantitative", "scale": {"domain": [0, 50], "nice": false}, "axis": {"title": null, "values": [0,10,20,30,40,50]}}, "text": {"field": "name"}}}
      ]
    },
    {
      "width": 570, "height": 234.6,
      "data": {"name": "d"},
      "transform": [{"filter": "datum.s == 'TB'"}],
      "encoding": {"x": {"field": "m", "type": "ordinal", "bandPosition": 0.5, "scale": {"type": "band", "domain": [1,2,3,4,5,6,7,8,9,10,11,12], "paddingInner": 0, "paddingOuter": 0}, "axis": {"title": "Month", "labels": true, "labelAngle": 0, "tickBand": "extent", "labelPadding": 19.5, "titleFontSize": 28, "titlePadding": 6.5}}},
      "layer": [
        {"mark": {"type": "rule", "strokeWidth": 1}, "encoding": {"y": {"field": "lo", "type": "quantitative", "scale": {"domain": [0, 100], "nice": false}, "axis": {"title": null, "values": [0,20,40,60,80,100]}}, "y2": {"field": "hi"}, "color": {"field": "g", "type": "nominal", "scale": {"domain": ["Moderate","Wet","Dry"], "range": ["#70AD47","#5B9BD5","#ED7D31"]}, "legend": null}}},
        {"mark": {"type": "tick", "thickness": 1, "size": 7}, "encoding": {"y": {"field": "hi", "type": "quantitative", "scale": {"domain": [0, 100], "nice": false}, "axis": {"title": null, "values": [0,20,40,60,80,100]}}, "color": {"field": "g", "type": "nominal", "scale": {"domain": ["Moderate","Wet","Dry"], "range": ["#70AD47","#5B9BD5","#ED7D31"]}, "legend": null}}},
        {"mark": {"type": "tick", "thickness": 1, "size": 7}, "encoding": {"y": {"field": "lo", "type": "quantitative", "scale": {"domain": [0, 100], "nice": false}, "axis": {"title": null, "values": [0,20,40,60,80,100]}}, "color": {"field": "g", "type": "nominal", "scale": {"domain": ["Moderate","Wet","Dry"], "range": ["#70AD47","#5B9BD5","#ED7D31"]}, "legend": null}}},
        {"mark": {"type": "line", "strokeWidth": 3}, "encoding": {"y": {"field": "v", "type": "quantitative", "scale": {"domain": [0, 100], "nice": false}, "axis": {"title": null, "values": [0,20,40,60,80,100]}}, "stroke": {"field": "g", "type": "nominal", "scale": {"domain": ["Moderate","Wet","Dry"], "range": ["#70AD47","#5B9BD5","#ED7D31"]}, "legend": null}}},
        {"mark": {"type": "point", "filled": true, "shape": "circle", "size": 71, "stroke": "black", "strokeWidth": 1, "opacity": 1}, "encoding": {"y": {"field": "v", "type": "quantitative", "scale": {"domain": [0, 100], "nice": false}, "axis": {"title": null, "values": [0,20,40,60,80,100]}}, "fill": {"field": "g", "type": "nominal", "scale": {"domain": ["Moderate","Wet","Dry"], "range": ["#70AD47","#5B9BD5","#ED7D31"]}, "legend": null}}},
        {"data": {"values": [{"s": "TB", "name": "Tarpon Bay"}]}, "mark": {"type": "text", "align": "right", "baseline": "alphabetic", "dx": 18, "dy": 18, "font": "Lato", "fontSize": 22, "color": "black"}, "encoding": {"x": {"datum": 12, "type": "ordinal", "bandPosition": 0.5, "scale": {"type": "band", "domain": [1,2,3,4,5,6,7,8,9,10,11,12], "paddingInner": 0, "paddingOuter": 0}, "axis": {"title": "Month", "labels": true, "labelAngle": 0, "tickBand": "extent", "labelPadding": 19.5, "titleFontSize": 28, "titlePadding": 6.5}}, "y": {"datum": 100, "type": "quantitative", "scale": {"domain": [0, 100], "nice": false}, "axis": {"title": null, "values": [0,20,40,60,80,100]}}, "text": {"field": "name"}}}
      ]
    }
  ]
}
